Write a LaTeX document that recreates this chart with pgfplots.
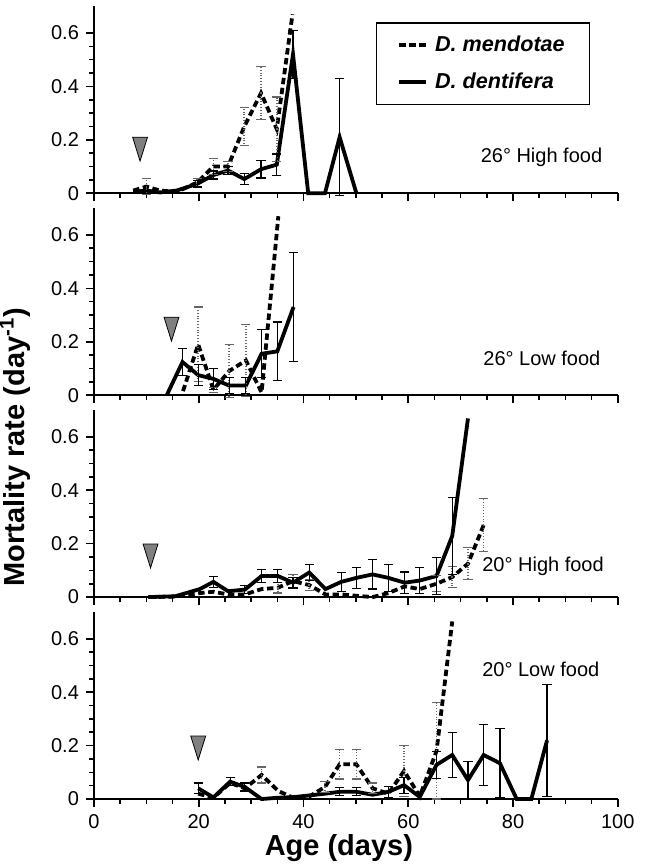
\documentclass[border=0pt]{standalone}
\usepackage{fontspec}
\setmainfont{Liberation Sans}
\usepackage{pgfplots}
\pgfplotsset{compat=1.18}
\usepgfplotslibrary{groupplots}

\pgfplotsset{
 dent/.style={black, line width=1.9pt, mark=none},
 mend/.style={black, line width=1.9pt, dash pattern=on 3.2pt off 1.8pt, mark=none},
 errD/.style={draw=none, mark=none, forget plot,
   error bars/.cd, y dir=both, y explicit,
   error bar style={draw=black, solid, line width=0.6pt},
   error mark options={draw=black, solid, rotate=90, mark size=2.3pt, line width=0.6pt}},
 errM/.style={draw=none, mark=none, forget plot,
   error bars/.cd, y dir=both, y explicit,
   error bar style={draw=black!60, densely dotted, line width=0.8pt},
   error mark options={draw=black!60, solid, rotate=90, mark size=2.3pt, line width=0.6pt}},
 tri/.style={only marks, forget plot, mark=triangle*, mark size=4.3pt,
   mark options={rotate=180, yscale=1.85, fill=black!50, draw=black, line width=0.4pt}},
}

\begin{document}
\begin{tikzpicture}
\begin{groupplot}[
  group style={group size=1 by 4, vertical sep=7.5pt, xticklabels at=edge bottom},
  width=262pt, height=93.5pt, scale only axis,
  xmin=0, xmax=100, ymin=0, ymax=0.7,
  axis x line=bottom, axis y line=left,
  axis line style={-, line width=0.8pt},
  xtick={0,20,...,100}, minor x tick num=3,
  ytick={0,0.2,0.4,0.6}, minor y tick num=3,
  tick align=outside, major tick length=4pt, minor tick length=2.5pt,
  every tick/.style={black, line width=0.8pt},
  tick label style={font=\fontsize{10}{12}\selectfont},
  /pgf/number format/assume math mode=true,
  clip=false,
  legend image code/.code={\draw[#1] (0pt,0pt) -- (13.5pt,0pt);},
]
% ---------- Panel 1: 26 High food
\nextgroupplot[
  legend style={at={(0.538,0.914)}, anchor=north west, draw=black, line width=0.6pt,
    font=\bfseries\itshape\fontsize{10.8}{13}\selectfont, inner xsep=10.5pt, inner ysep=4.5pt,
    row sep=5pt, legend cell align=left},
]
\addplot[mend] coordinates {(7.5,0.01) (10,0.025) (12.6,0.01) (15.8,0.005) (19.7,0.04) (22.8,0.1) (25.6,0.1) (28.7,0.25) (31.9,0.375) (34.9,0.24) (37.9,0.67)};
\addlegendentry{\hspace*{1.5pt}D. mendotae}
\addplot[dent] coordinates {(7.5,0.005) (10,0.01) (12.6,0.003) (15.8,0.01) (19.7,0.035) (22.8,0.068) (25.6,0.085) (28.7,0.053) (31.9,0.09) (34.9,0.107) (38,0.52) (40.9,0) (44.1,0) (46.9,0.21) (50.1,0)};
\addlegendentry{\hspace*{1.5pt}D. dentifera}
\addplot[errM] coordinates {(10,0.025) +- (0,0.03) (19.7,0.04) +- (0,0.015) (22.8,0.1) +- (0,0.03) (25.6,0.1) +- (0,0.02) (28.7,0.25) +- (0,0.07) (31.9,0.375) +- (0,0.1) (34.9,0.24) +- (0,0.12)};
\addplot[errD] coordinates {(19.7,0.035) +- (0,0.012) (22.8,0.068) +- (0,0.015) (25.6,0.085) +- (0,0.015) (28.7,0.053) +- (0,0.02) (31.9,0.09) +- (0,0.033) (34.9,0.107) +- (0,0.04) (38,0.52) +- (0,0.09) (46.9,0.21) +- (0,0.22)};
\addplot[tri] coordinates {(8.8,0.18)};
\node[anchor=west, font=\fontsize{10}{12}\selectfont] at (axis cs:72.5,0.135) {26° High food};
% ---------- Panel 2: 26 Low food
\nextgroupplot
\addplot[mend] coordinates {(17,0.015) (19.9,0.19) (22.8,0.02) (25.8,0.09) (29,0.13) (32,0.01) (35.2,0.67)};
\addplot[dent] coordinates {(13.9,0) (16.9,0.124) (19.9,0.075) (22.8,0.061) (25.8,0.036) (29,0.036) (32,0.155) (35,0.164) (38.1,0.33)};
\addplot[errM] coordinates {(19.9,0.19) +- (0,0.14) (22.8,0.02) +- (0,0.01) (25.8,0.09) +- (0,0.1) (29,0.13) +- (0,0.135)};
\addplot[errD] coordinates {(16.9,0.124) +- (0,0.05) (19.9,0.075) +- (0,0.04) (22.8,0.061) +- (0,0.04) (25.8,0.036) +- (0,0.03) (29,0.036) +- (0,0.03) (32,0.155) +- (0,0.09) (35,0.164) +- (0,0.11) (38.1,0.33) +- (0,0.205)};
\addplot[tri] coordinates {(14.8,0.262)};
\node[anchor=west, font=\fontsize{10}{12}\selectfont] at (axis cs:73,0.139) {26° Low food};
% ---------- Panel 3: 20 High food
\nextgroupplot
\addplot[mend] coordinates {(10.4,0) (15.5,0.002) (20.2,0.015) (22.8,0.02) (25.6,0.01) (28.8,0.01) (32,0.03) (35.1,0.035) (38,0.06) (41.1,0.045) (44.2,0.01) (47.2,0.01) (50.1,0.005) (53.2,0) (56.2,0.015) (59.3,0.04) (62.2,0.03) (65.4,0.05) (68.4,0.075) (71.4,0.125) (74.4,0.27)};
\addplot[dent] coordinates {(10.4,0) (15.5,0.003) (20.2,0.03) (22.8,0.057) (25.6,0.022) (28.8,0.028) (32,0.079) (35.1,0.079) (38,0.054) (41.1,0.092) (44.2,0.03) (47.2,0.057) (50.1,0.072) (53.2,0.085) (56.2,0.072) (59.3,0.054) (62.2,0.062) (65.4,0.079) (68.4,0.229) (71.4,0.669)};
\addplot[errM] coordinates {(35.1,0.035) +- (0,0.02) (38,0.06) +- (0,0.025) (41.1,0.045) +- (0,0.02) (65.4,0.05) +- (0,0.03) (68.4,0.075) +- (0,0.04) (71.4,0.125) +- (0,0.06) (74.4,0.27) +- (0,0.1)};
\addplot[errD] coordinates {(22.8,0.057) +- (0,0.02) (28.8,0.028) +- (0,0.015) (32,0.079) +- (0,0.025) (35.1,0.079) +- (0,0.025) (38,0.054) +- (0,0.02) (41.1,0.092) +- (0,0.03) (47.2,0.057) +- (0,0.035) (50.1,0.072) +- (0,0.04) (53.2,0.085) +- (0,0.055) (56.2,0.072) +- (0,0.05) (59.3,0.054) +- (0,0.04) (62.2,0.062) +- (0,0.05) (65.4,0.079) +- (0,0.07) (68.4,0.229) +- (0,0.145)};
\addplot[tri] coordinates {(10.8,0.169)};
\node[anchor=west, font=\fontsize{10}{12}\selectfont] at (axis cs:72.8,0.116) {20° High food};
% ---------- Panel 4: 20 Low food
\nextgroupplot
\addplot[mend] coordinates {(19.9,0.02) (22.8,0.005) (26,0.06) (28.8,0.04) (32,0.09) (35.2,0.03) (38,0.005) (40.9,0.007) (44.1,0.045) (46.9,0.13) (50.1,0.13) (53.2,0.04) (56.2,0.02) (59.2,0.105) (62.2,0.01) (65.4,0.18) (68.4,0.665)};
\addplot[dent] coordinates {(19.9,0.04) (22.8,0.006) (26,0.065) (28.8,0.045) (32,0) (35.2,0.005) (38,0.007) (40.9,0.013) (44.1,0.02) (46.9,0.027) (50.1,0.027) (53.2,0.016) (56.2,0.027) (59.2,0.052) (62.2,0.008) (65.4,0.128) (68.4,0.165) (71.4,0.071) (74.4,0.165) (77.5,0.134) (80.7,0) (83.5,0) (86.5,0.22)};
\addplot[errM] coordinates {(32,0.09) +- (0,0.03) (44.1,0.045) +- (0,0.02) (46.9,0.13) +- (0,0.055) (50.1,0.13) +- (0,0.055) (53.2,0.04) +- (0,0.02) (59.2,0.105) +- (0,0.095) (65.4,0.18) +- (0,0.18)};
\addplot[errD] coordinates {(19.9,0.04) +- (0,0.02) (26,0.065) +- (0,0.015) (28.8,0.045) +- (0,0.015) (46.9,0.027) +- (0,0.015) (50.1,0.027) +- (0,0.015) (56.2,0.027) +- (0,0.02) (59.2,0.052) +- (0,0.03) (65.4,0.128) +- (0,0.05) (68.4,0.165) +- (0,0.085) (71.4,0.071) +- (0,0.07) (74.4,0.165) +- (0,0.115) (77.5,0.134) +- (0,0.13) (86.5,0.22) +- (0,0.21)};
\addplot[tri] coordinates {(19.9,0.206)};
\node[anchor=west, font=\fontsize{10}{12}\selectfont] at (axis cs:72.8,0.484) {20° Low food};
\end{groupplot}
\node[rotate=90, font=\bfseries\fontsize{14.5}{16}\selectfont] at ([xshift=-39.5pt,yshift=-26pt]group c1r2.south west) {Mortality rate (day\textsuperscript{-1})};
\node[font=\bfseries\fontsize{14.5}{16}\selectfont] at ([xshift=-8.5pt,yshift=-24.5pt]group c1r4.south) {Age (days)};
\pgfresetboundingbox
\path[use as bounding box] ([xshift=-47pt,yshift=-33.5pt]group c1r4.south west) rectangle ([xshift=17pt,yshift=3.15pt]group c1r1.north east);
\end{tikzpicture}
\end{document}
